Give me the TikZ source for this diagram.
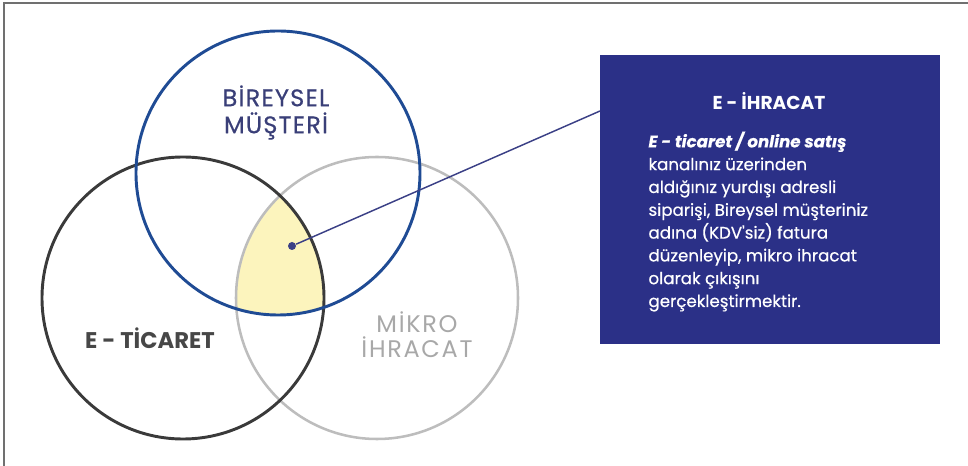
\documentclass[tikz,border=0pt]{standalone}
\usepackage{fontspec}
\setmainfont{Poppins}
\newfontfamily\mediumfont[FakeBold=0.5]{Poppins}
\definecolor{navybox}{HTML}{2B3087}
\definecolor{bluering}{HTML}{1F4B94}
\definecolor{darkring}{HTML}{3A3A3A}
\definecolor{grayring}{HTML}{BDBDBD}
\definecolor{yellowfill}{HTML}{FCF4BD}
\definecolor{bireyselink}{HTML}{3A3F78}
\definecolor{ticaretink}{HTML}{474747}
\definecolor{mikroink}{HTML}{A8A8A8}
\definecolor{framegray}{HTML}{707070}
\definecolor{pinline}{HTML}{3B4086}
\tikzset{every picture/.style={line width=0.75pt}}
\tikzset{
  ring/.style={line width=2.2pt},
  ringlabel/.style={inner sep=0.75pt, align=center, font=\fontsize{18}{20.25}\selectfont},
}

\begin{document}
\begin{tikzpicture}[x=0.75pt,y=0.75pt,yscale=-1,xscale=1]
    \useasboundingbox (0,0) rectangle (968,466);
    %Shape: Frame
    \draw [color=framegray, line width=1.5pt] (4,466) -- (4,3) -- (968,3) ;
    %Shape: Common area of the three circles
    \begin{scope}
    \clip (183,298) circle (141);
    \clip (377,298) circle (141);
    \fill [yellowfill] (278,173) circle (142);
    \end{scope}
    %Shape: Circle [mikro ihracat]
    \draw [color=grayring, ring, line width=1.9pt] (377,298) circle (141) ;
    %Shape: Circle [e-ticaret]
    \draw [color=darkring, ring] (183,298) circle (141) ;
    %Shape: Circle [bireysel musteri]
    \draw [color=bluering, ring] (278,173) circle (142) ;
    % Text Node
    \draw (276,112.5) node (bireysel) [ringlabel, color=bireyselink] {\mediumfont\addfontfeature{LetterSpace=5}BİREYSEL\\\mediumfont\addfontfeature{LetterSpace=5}MÜŞTERİ};
    % Text Node
    \draw (150,338) node (ticaret) [ringlabel, color=ticaretink, font=\fontsize{17}{20}\selectfont] {\bfseries E - TİCARET};
    % Text Node
    \draw (417,334.5) node (mikro) [ringlabel, color=mikroink, font=\fontsize{18}{19}\selectfont] {\addfontfeature{LetterSpace=7}MİKRO\\\addfontfeature{LetterSpace=7}İHRACAT};
    %Shape: Rectangle [e-ihracat box]
    \draw (770,199.5) node (ihracatbox) [fill=navybox, minimum width=255pt, minimum height=216.75pt, inner sep=0pt] {};
    % Text Node
    \draw (769,101) node (boxtitle) [inner sep=0.75pt, color=white, font=\bfseries\fontsize{14}{16}\selectfont] {E - İHRACAT};
    % Text Node
    \draw (648,307) node (boxbody) [anchor=base west, inner sep=0pt, align=left, color=white, font=\mediumfont\fontsize{12.5}{17.1}\selectfont] {\textbf{\textit{E - ticaret / online satış}}\\kanalınız üzerinden\\aldığınız yurdışı adresli\\siparişi, Bireysel müşteriniz\\adına (KDV'siz) fatura\\düzenleyip, mikro ihracat\\olarak çıkışını\\gerçekleştirmektir.};
    %Shape: Dot and pin line
    \draw (292,246) node (dot) [circle, fill=pinline, inner sep=0pt, minimum size=6pt] {};
    \coordinate (boxpin) at (600,111);
    \draw [color=pinline, line width=1.1pt] (dot) -- (boxpin) ;
\end{tikzpicture}
\end{document}
